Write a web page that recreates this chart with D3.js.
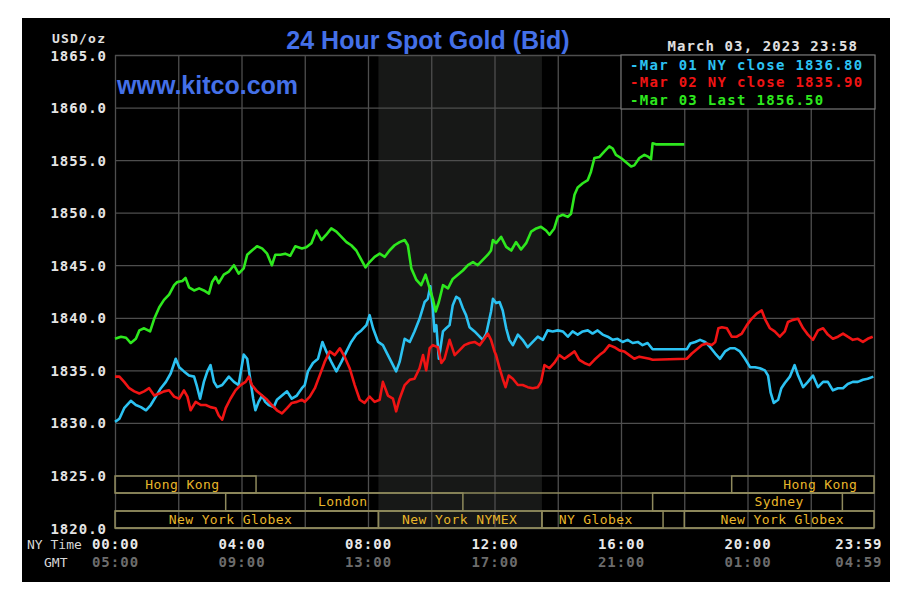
<!DOCTYPE html>
<html><head><meta charset="utf-8">
<script src="https://cdn.jsdelivr.net/npm/d3@7"></script>
<style>
html,body{margin:0;padding:0;background:#fff;}
svg{display:block;}
</style></head>
<body>
<svg id="chart" width="912" height="603"></svg>
<script>
// ---------- DATA ----------
const yTicks = [1820,1825,1830,1835,1840,1845,1850,1855,1860,1865];
const xTickHours = [0,4,8,12,16,20,24];
const nyTimeLabels = ["00:00","04:00","08:00","12:00","16:00","20:00","23:59"];
const gmtLabels = ["05:00","09:00","13:00","17:00","21:00","01:00","04:59"];

const seriesNames = ["Mar 01 NY close 1836.80","Mar 02 NY close 1835.90","Mar 03 Last 1856.50"];

// Mar 01 (cyan) - hours / values
const mar01Hours = [0,0.14,0.29,0.5,0.66,0.82,0.98,1.13,1.29,1.45,1.61,1.76,1.92,2.03,2.18,2.34,2.5,2.58,2.69,2.81,2.92,3.02,3.13,3.23,3.39,3.6,3.76,3.91,4.07,4.18,4.26,4.37,4.44,4.54,4.65,4.75,4.86,5.02,5.12,5.28,5.44,5.59,5.75,5.91,6.0,6.1,6.26,6.42,6.56,6.68,6.84,7.0,7.16,7.32,7.47,7.63,7.79,7.95,8.05,8.16,8.32,8.47,8.63,8.79,8.89,9.0,9.16,9.32,9.47,9.63,9.79,9.89,9.97,10.05,10.1,10.16,10.24,10.37,10.47,10.58,10.68,10.79,10.89,11.0,11.1,11.21,11.37,11.53,11.63,11.74,11.89,11.95,12.05,12.16,12.26,12.37,12.47,12.58,12.74,12.89,13.05,13.21,13.37,13.53,13.68,13.84,14.0,14.16,14.32,14.47,14.63,14.79,14.95,15.1,15.26,15.42,15.58,15.74,15.89,16.05,16.21,16.37,16.53,16.68,16.84,17.0,18.08,18.19,18.35,18.5,18.66,18.82,18.98,19.13,19.29,19.45,19.6,19.76,19.92,20.08,20.24,20.39,20.55,20.65,20.73,20.83,20.97,21.07,21.18,21.34,21.49,21.6,21.76,21.91,22.07,22.23,22.39,22.54,22.7,22.86,23.02,23.17,23.33,23.49,23.65,23.8,23.98];
const mar01Values = [1830.1,1830.4,1831.4,1832.1,1831.7,1831.5,1831.2,1831.7,1832.5,1833.3,1833.9,1834.7,1836.1,1835.3,1834.9,1834.5,1834.4,1833.6,1832.3,1833.9,1834.9,1835.5,1833.9,1833.4,1833.6,1834.4,1833.9,1833.6,1836.5,1836.1,1834.5,1832.3,1831.2,1832.0,1832.6,1832.0,1831.7,1831.5,1832.2,1832.6,1833.0,1832.3,1832.6,1833.3,1833.6,1834.9,1835.7,1836.1,1837.7,1836.8,1835.8,1834.9,1835.8,1836.8,1837.7,1838.4,1838.8,1839.3,1840.25,1839.0,1837.7,1837.4,1836.45,1835.5,1834.9,1835.8,1838.0,1837.7,1838.7,1839.9,1841.5,1841.8,1843.0,1840.9,1838.7,1839.3,1836.1,1838.7,1839.0,1839.3,1841.2,1842.0,1841.8,1840.9,1840.25,1839.1,1838.7,1838.2,1837.9,1838.5,1840.6,1841.8,1841.4,1841.5,1840.7,1839.0,1837.9,1837.4,1838.4,1837.9,1837.2,1837.7,1838.2,1837.9,1838.8,1838.7,1838.8,1838.7,1838.2,1838.7,1838.4,1838.7,1838.8,1838.5,1838.8,1838.4,1838.2,1837.9,1838.0,1837.7,1837.9,1837.6,1837.7,1837.4,1837.6,1837.0,1837.0,1837.55,1837.7,1837.9,1837.7,1837.2,1836.6,1836.1,1836.8,1837.1,1837.1,1836.8,1836.1,1835.3,1835.3,1835.2,1835.0,1834.5,1832.9,1831.9,1832.2,1833.3,1833.8,1834.4,1835.5,1834.5,1833.4,1833.9,1834.5,1833.4,1833.9,1833.9,1833.1,1833.3,1833.3,1833.7,1833.9,1833.9,1834.1,1834.2,1834.4];

// Mar 02 (red)
const mar02Hours = [0,0.14,0.29,0.45,0.61,0.77,0.92,1.08,1.24,1.4,1.55,1.71,1.87,2.03,2.18,2.29,2.39,2.55,2.71,2.87,3.02,3.18,3.28,3.39,3.5,3.65,3.81,3.97,4.13,4.23,4.33,4.49,4.65,4.81,4.96,5.12,5.28,5.44,5.59,5.75,5.91,6.0,6.16,6.32,6.47,6.63,6.79,6.95,7.11,7.26,7.42,7.58,7.74,7.89,8.05,8.21,8.37,8.47,8.63,8.79,8.89,9.0,9.16,9.32,9.47,9.63,9.74,9.84,9.95,10.05,10.21,10.32,10.42,10.58,10.74,10.89,11.05,11.21,11.37,11.53,11.68,11.79,11.89,12.0,12.05,12.16,12.26,12.35,12.45,12.58,12.74,12.89,13.05,13.21,13.37,13.47,13.58,13.74,13.89,14.05,14.21,14.37,14.53,14.68,14.84,15.0,15.16,15.32,15.47,15.63,15.79,15.95,16.1,16.26,16.42,16.58,16.74,16.9,17.0,18.08,18.24,18.4,18.56,18.71,18.87,18.98,19.08,19.19,19.35,19.5,19.66,19.82,19.98,20.13,20.29,20.45,20.55,20.71,20.86,21.02,21.18,21.28,21.44,21.6,21.76,21.91,22.07,22.23,22.39,22.54,22.7,22.86,23.02,23.17,23.33,23.49,23.65,23.8,23.96];
const mar02Values = [1834.4,1834.4,1833.9,1833.3,1833.0,1832.8,1833.0,1833.3,1832.6,1832.8,1833.0,1833.1,1832.5,1832.3,1833.1,1832.5,1831.2,1832.0,1831.7,1831.7,1831.5,1831.4,1830.7,1830.3,1831.4,1832.3,1833.1,1833.6,1833.9,1834.4,1833.6,1833.0,1832.6,1832.2,1831.7,1831.2,1830.9,1831.4,1831.9,1832.0,1832.2,1832.0,1832.5,1833.3,1834.5,1835.8,1836.8,1836.45,1837.1,1836.3,1835.2,1833.6,1832.2,1831.9,1832.5,1832.0,1832.2,1833.9,1832.6,1832.3,1831.1,1832.3,1833.6,1834.1,1834.2,1835.2,1836.45,1835.0,1837.1,1837.4,1837.2,1835.7,1836.1,1837.9,1836.45,1836.9,1837.4,1837.6,1837.7,1837.4,1838.0,1838.5,1837.9,1836.8,1836.45,1835.2,1834.2,1833.4,1834.5,1834.2,1833.6,1833.6,1833.4,1833.3,1833.4,1833.9,1835.5,1835.2,1835.7,1836.45,1836.1,1836.45,1836.8,1836.0,1835.7,1835.5,1836.0,1836.45,1836.8,1837.4,1837.2,1836.9,1836.8,1836.45,1836.1,1836.3,1836.2,1836.1,1836.0,1836.1,1836.6,1837.0,1837.4,1837.55,1837.4,1837.7,1839.0,1839.1,1839.0,1838.2,1838.2,1838.5,1839.3,1839.9,1840.4,1840.7,1839.9,1839.0,1838.7,1838.2,1838.7,1839.6,1839.8,1839.9,1839.0,1838.4,1837.9,1838.8,1839.0,1838.4,1838.0,1838.2,1838.5,1838.2,1837.9,1838.0,1837.7,1838.0,1838.2];

// Mar 03 (green)
const mar03Hours = [0,0.19,0.35,0.5,0.66,0.77,0.92,1.11,1.24,1.4,1.55,1.71,1.87,1.97,2.13,2.23,2.34,2.5,2.66,2.81,2.97,3.07,3.18,3.28,3.44,3.6,3.76,3.91,4.07,4.18,4.33,4.49,4.65,4.81,4.96,5.07,5.23,5.38,5.54,5.7,5.91,6.05,6.21,6.37,6.53,6.68,6.84,7.0,7.16,7.32,7.47,7.63,7.79,7.92,8.05,8.21,8.37,8.53,8.68,8.84,9.0,9.16,9.26,9.37,9.53,9.68,9.82,9.95,10.05,10.14,10.24,10.37,10.53,10.68,10.84,11.0,11.16,11.32,11.47,11.63,11.79,11.89,11.95,12.05,12.21,12.37,12.53,12.68,12.84,13.0,13.16,13.32,13.47,13.63,13.74,13.89,14.0,14.16,14.32,14.42,14.53,14.63,14.79,14.95,15.05,15.16,15.32,15.47,15.63,15.74,15.84,16.0,16.16,16.32,16.42,16.58,16.74,16.87,16.95,17.0,17.1,18.0];
const mar03Values = [1838.0,1838.2,1838.1,1837.6,1838.0,1838.8,1839.0,1838.7,1839.9,1841.0,1841.7,1842.2,1843.1,1843.4,1843.5,1843.8,1842.9,1842.6,1842.8,1842.6,1842.3,1843.4,1843.9,1843.3,1844.1,1844.4,1845.0,1844.2,1844.7,1846.0,1846.4,1846.8,1846.6,1846.1,1845.0,1846.0,1846.0,1846.1,1845.9,1846.8,1846.6,1846.7,1847.1,1848.3,1847.4,1847.9,1848.5,1848.2,1847.7,1847.2,1846.9,1846.4,1845.5,1844.8,1845.3,1845.8,1846.1,1845.8,1846.4,1846.9,1847.2,1847.4,1846.9,1844.7,1843.6,1843.1,1844.1,1842.8,1841.8,1840.6,1841.5,1843.1,1842.8,1843.7,1844.1,1844.5,1845.0,1845.3,1845.0,1845.5,1846.0,1846.4,1847.4,1847.1,1847.7,1846.75,1846.4,1847.2,1846.5,1847.1,1848.2,1848.5,1848.65,1848.3,1847.9,1848.5,1849.6,1849.8,1849.6,1849.9,1851.7,1852.4,1852.8,1853.1,1853.9,1855.2,1855.3,1855.8,1856.3,1856.1,1855.5,1855.2,1854.8,1854.4,1854.5,1855.2,1855.5,1855.3,1855.1,1856.6,1856.5,1856.5];

// trading sessions
const sessionNames = ["Hong Kong","London","New York Globex","New York NYMEX","NY Globex","Sydney","New York Globex","Hong Kong"];
const sessionRows  = [0,1,2,2,2,1,2,0];
const sessionStart = [0,3.5,0,8.33,13.5,17,18,19.5];
const sessionEnd   = [4.46,11,8.33,13.5,17.33,23,24,24];
const sessionLabelAt = [2.13,7.2,3.65,10.9,15.2,21.0,21.1,22.3];
const nymexShade = [8.33,13.5];

// ---------- DRAW ----------
const svg = d3.select("#chart");
const L=115, R=874, T=55, B=528;
const x = d3.scaleLinear().domain([0,24]).range([L,R]);
const y = d3.scaleLinear().domain([1820,1865]).range([B,T]);
const MONO = "'DejaVu Sans Mono', 'Liberation Mono', monospace";
const SANS = "'Liberation Sans', Arial, sans-serif";

svg.append("rect").attr("x",22).attr("y",18).attr("width",868).attr("height",564).attr("fill","#000");

svg.append("rect").attr("x",x(nymexShade[0])).attr("y",T)
  .attr("width",x(nymexShade[1])-x(nymexShade[0])).attr("height",B-T).attr("fill","#171817");

const gx = svg.append("g").attr("transform",`translate(0,${B})`)
  .call(d3.axisBottom(x).tickValues(d3.range(0,25,2)).tickSize(-(B-T)).tickFormat(""));
gx.select(".domain").remove();
gx.selectAll("line").attr("stroke","#4e4e4e").attr("stroke-width",1.3);

const gy = svg.append("g").attr("transform",`translate(${L},0)`)
  .call(d3.axisLeft(y).tickValues(yTicks).tickSize(-(R-L)).tickPadding(8).tickFormat(d=>d.toFixed(1)));
gy.select(".domain").remove();
gy.selectAll("line").attr("stroke","#4e4e4e").attr("stroke-width",1.3);
gy.selectAll("text").attr("fill","#e4e4e4").attr("font-family",MONO).attr("font-weight","bold")
  .attr("font-size","14px").attr("letter-spacing","1px").attr("dy","0.36em");

// sessions
const rowTop = [476,493,511];
const rowH = [17,18,17];
const tan = "#8e895c";
[493,511,528].forEach(yy=>{
  svg.append("line").attr("x1",L).attr("x2",R).attr("y1",yy).attr("y2",yy).attr("stroke",tan).attr("stroke-width",1.5);
});
const sg = svg.append("g");
sessionNames.forEach((n,i)=>{
  const r = sessionRows[i];
  sg.append("rect").attr("x",x(sessionStart[i])).attr("y",rowTop[r])
    .attr("width",x(sessionEnd[i])-x(sessionStart[i])).attr("height",rowH[r])
    .attr("fill","none").attr("stroke",tan).attr("stroke-width",1.5);
  sg.append("text").attr("x",x(sessionLabelAt[i])).attr("y",rowTop[r]+13)
    .attr("text-anchor","middle").attr("fill","#e8b62a").attr("font-family",MONO)
    .attr("font-size","13px").attr("letter-spacing","0.4px").text(n);
});

// lines
const line = d3.line().x(d=>x(d[0])).y(d=>y(d[1]));
const series = [
  {h:mar01Hours, v:mar01Values, c:"#2cc2f2"},
  {h:mar02Hours, v:mar02Values, c:"#f01414"},
  {h:mar03Hours, v:mar03Values, c:"#2ee81e"}
];
series.forEach(s=>{
  const pts = s.h.map((h,i)=>[h,s.v[i]]);
  svg.append("path").datum(pts).attr("d",line).attr("fill","none")
    .attr("stroke",s.c).attr("stroke-width",2.6).attr("stroke-linejoin","round");
});

// x axis labels
const xa = svg.append("g").attr("transform",`translate(0,${B})`)
  .call(d3.axisBottom(x).tickValues(xTickHours).tickSize(0).tickPadding(11).tickFormat((d,i)=>nyTimeLabels[i]));
xa.select(".domain").remove();
xa.selectAll("text").attr("fill","#e8e8e8").attr("font-family",MONO).attr("font-weight","bold")
  .attr("font-size","14px").attr("letter-spacing","1px").attr("dy","0.71em");
xa.selectAll("text").filter((d,i)=>i===6).attr("text-anchor","end").attr("dx","8px");

const xg = svg.append("g").attr("transform",`translate(0,${B})`)
  .call(d3.axisBottom(x).tickValues(xTickHours).tickSize(0).tickPadding(29).tickFormat((d,i)=>gmtLabels[i]));
xg.select(".domain").remove();
xg.selectAll("text").attr("fill","#6c6c6c").attr("font-family",MONO).attr("font-weight","bold")
  .attr("font-size","14px").attr("letter-spacing","1px").attr("dy","0.71em");
xg.selectAll("text").filter((d,i)=>i===6).attr("text-anchor","end").attr("dx","8px");

svg.append("text").attr("x",27).attr("y",549).attr("fill","#d8d8d8").attr("font-family",MONO)
  .attr("font-size","13px").text("NY Time");
svg.append("text").attr("x",44).attr("y",567).attr("fill","#d8d8d8").attr("font-family",MONO)
  .attr("font-size","13px").text("GMT");

// header texts
svg.append("text").attr("x",52).attr("y",43).attr("fill","#e0e0e0").attr("font-family",MONO)
  .attr("font-weight","bold").attr("font-size","13px").attr("letter-spacing","1.2px").text("USD/oz");
svg.append("text").attr("x",428).attr("y",49).attr("text-anchor","middle").attr("fill","#4470e8")
  .attr("font-family",SANS).attr("font-weight","bold").attr("font-size","25px").text("24 Hour Spot Gold (Bid)");
svg.append("text").attr("x",117).attr("y",94).attr("fill","#4470e8")
  .attr("font-family",SANS).attr("font-weight","bold").attr("font-size","25px").text("www.kitco.com");
svg.append("text").attr("x",858).attr("y",51).attr("text-anchor","end").attr("fill","#e0e0e0")
  .attr("font-family",MONO).attr("font-weight","bold").attr("font-size","14px").attr("letter-spacing","1.1px")
  .text("March 03, 2023 23:58");

// legend
svg.append("rect").attr("x",621).attr("y",55).attr("width",254).attr("height",54)
  .attr("fill","#000").attr("stroke","#777").attr("stroke-width",1.2);
const legendY = [70,87,105];
series.forEach((s,i)=>{
  svg.append("text").attr("x",630).attr("y",legendY[i]).attr("fill",s.c).attr("font-family",MONO)
    .attr("font-weight","bold").attr("font-size","14px").attr("letter-spacing","1.3px")
    .text("-" + seriesNames[i]);
});
</script>
</body></html>
